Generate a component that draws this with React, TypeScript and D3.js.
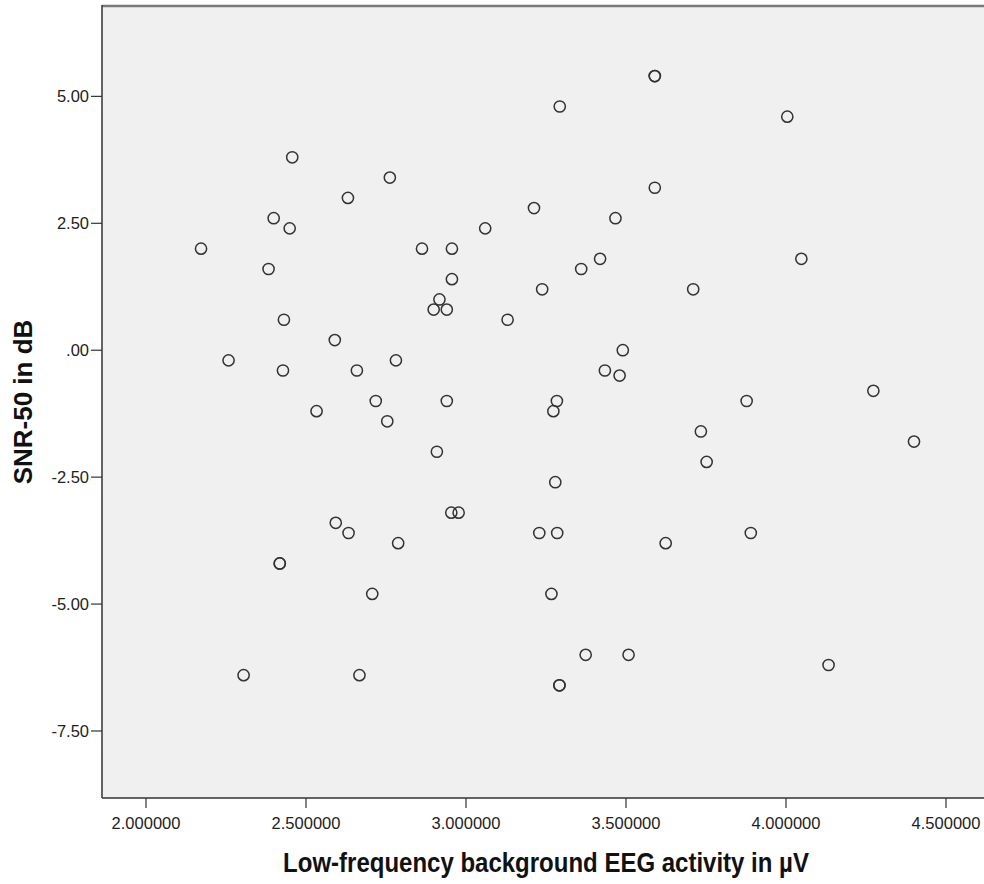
import React from 'react';
import { scaleLinear } from 'd3';

const width = 984;
const height = 884;
const plot = { left: 102, top: 6, right: 986, bottom: 798 };

// EEG activity (µV) and SNR-50 (dB)
const eegValues = [
  2.172, 2.258, 2.305, 2.383, 2.399, 2.449, 2.457, 2.431, 2.428, 2.418,
  2.418, 2.533, 2.631, 2.59, 2.593, 2.633, 2.659, 2.667, 2.707, 2.718,
  2.762, 2.754, 2.781, 2.788, 2.8625, 2.917, 2.899, 2.94, 2.956, 2.956,
  2.94, 2.909, 2.954, 2.977, 3.06, 3.13, 3.2125, 3.238, 3.229, 3.267,
  3.273, 3.284, 3.279, 3.285, 3.293, 3.292, 3.292, 3.36, 3.374, 3.419,
  3.59, 3.59, 3.467, 3.59, 3.434, 3.48, 3.49, 3.508, 3.624, 3.71,
  3.734, 3.752, 3.877, 3.89, 4.004, 4.048, 4.133, 4.273, 4.4,
];
const snrValues = [
  2.0, -0.2, -6.4, 1.6, 2.6, 2.4, 3.8, 0.6, -0.4, -4.2,
  -4.2, -1.2, 3.0, 0.2, -3.4, -3.6, -0.4, -6.4, -4.8, -1.0,
  3.4, -1.4, -0.2, -3.8, 2.0, 1.0, 0.8, 0.8, 1.4, 2.0,
  -1.0, -2.0, -3.2, -3.2, 2.4, 0.6, 2.8, 1.2, -3.6, -4.8,
  -1.2, -1.0, -2.6, -3.6, 4.8, -6.6, -6.6, 1.6, -6.0, 1.8,
  5.4, 5.4, 2.6, 3.2, -0.4, -0.5, 0.0, -6.0, -3.8, 1.2,
  -1.6, -2.2, -1.0, -3.6, 4.6, 1.8, -6.2, -0.8, -1.8,
];

const xTicks = [2.0, 2.5, 3.0, 3.5, 4.0, 4.5];
const xTickLabels = ['2.000000', '2.500000', '3.000000', '3.500000', '4.000000', '4.500000'];
const yTicks = [5, 2.5, 0, -2.5, -5, -7.5];
const yTickLabels = ['5.00', '2.50', '.00', '-2.50', '-5.00', '-7.50'];

const font = '"Liberation Sans", Arial, sans-serif';

const App = () => {
  const xScale = scaleLinear()
    .domain([1.8625, 4.625])
    .range([plot.left, plot.right]);
  const yScale = scaleLinear()
    .domain([-8.82, 6.78])
    .range([plot.bottom, plot.top]);

  return (
    <svg
      width={width}
      height={height}
      style={{ position: 'absolute', left: 0, top: 0, background: '#fff' }}
    >
      <rect
        x={plot.left}
        y={plot.top}
        width={plot.right - plot.left}
        height={plot.bottom - plot.top}
        fill="#f0f0f0"
      />
      <line x1={plot.left} x2={width} y1={plot.top} y2={plot.top} stroke="#7a7a7a" strokeWidth={2.5} />

      {eegValues.map((x, i) => (
        <circle
          key={i}
          cx={xScale(x)}
          cy={yScale(snrValues[i])}
          r={5.6}
          fill="none"
          stroke="#333"
          strokeWidth={1.5}
        />
      ))}

      <line x1={plot.left} x2={plot.left} y1={plot.top - 1} y2={plot.bottom} stroke="#333" strokeWidth={1.5} />
      <line x1={plot.left} x2={width} y1={plot.bottom} y2={plot.bottom} stroke="#333" strokeWidth={1.5} />

      {yTicks.map((t, i) => (
        <g key={t} transform={`translate(0,${yScale(t)})`}>
          <line x1={plot.left - 11} x2={plot.left} stroke="#333" strokeWidth={1.2} />
          <text
            x={plot.left - 13}
            dy="0.35em"
            textAnchor="end"
            fontFamily={font}
            fontSize={16.5}
            fill="#222"
          >
            {yTickLabels[i]}
          </text>
        </g>
      ))}

      {xTicks.map((t, i) => (
        <g key={t} transform={`translate(${xScale(t)},0)`}>
          <line y1={plot.bottom} y2={plot.bottom + 10} stroke="#333" strokeWidth={1.2} />
          <text
            y={plot.bottom + 31}
            textAnchor="middle"
            fontFamily={font}
            fontSize={16.5}
            fill="#222"
          >
            {xTickLabels[i]}
          </text>
        </g>
      ))}

      <text
        transform="translate(546,872) scale(1,1.15)"
        textAnchor="middle"
        fontFamily={font}
        fontWeight="bold"
        fontSize={24}
        fill="#111"
      >
        Low-frequency background EEG activity in µV
      </text>
      <text
        transform="translate(32,402) rotate(-90)"
        textAnchor="middle"
        fontFamily={font}
        fontWeight="bold"
        fontSize={26}
        fill="#111"
      >
        SNR-50 in dB
      </text>
    </svg>
  );
};

export default App;
